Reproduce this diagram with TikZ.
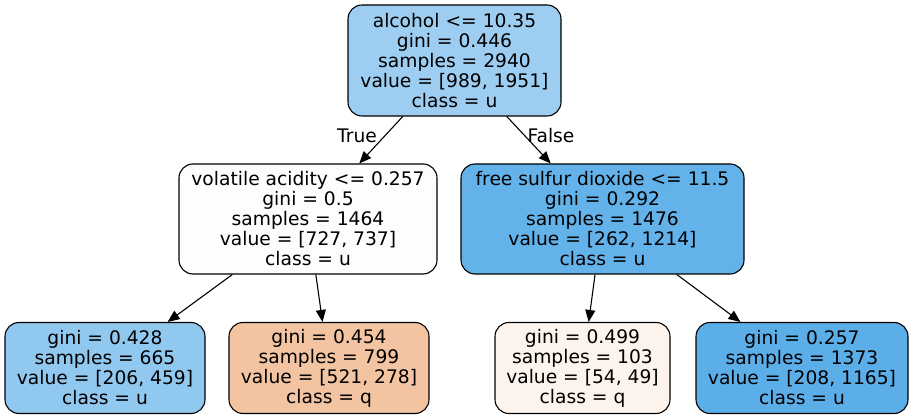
\documentclass[tikz,border=0pt]{standalone}
\usepackage{fontspec}
\setmainfont{DejaVu Sans}
\usetikzlibrary{arrows.meta}
\definecolor{cRoot}{RGB}{157,206,242}
\definecolor{cL}{RGB}{252,253,254}
\definecolor{cR}{RGB}{99,178,234}
\definecolor{cLL}{RGB}{145,200,240}
\definecolor{cLR}{RGB}{242,196,162}
\definecolor{cRL}{RGB}{252,243,236}
\definecolor{cRR}{RGB}{92,174,233}
\begin{document}
\begin{tikzpicture}[x=1pt,y=1pt,
  treenode/.style={draw=black,line width=1.1pt,rounded corners=14pt,inner sep=0pt,
    align=center,font=\fontsize{18.67}{20}\selectfont},
  edge/.style={line width=1.1pt,-{Triangle[length=12pt,width=10pt]}},
  elabel/.style={font=\fontsize{18.67}{20}\selectfont,inner sep=0pt}]
\useasboundingbox (0,0) rectangle (913,-419);
\node[treenode,fill=cRoot,minimum width=213pt,minimum height=111pt] (root) at (454.5,-60.5)
  {alcohol <= 10.35\\gini = 0.446\\samples = 2940\\value = [989, 1951]\\class = u};
\node[treenode,fill=cL,minimum width=258pt,minimum height=110pt] (l) at (308,-219)
  {volatile acidity <= 0.257\\gini = 0.5\\samples = 1464\\value = [727, 737]\\class = u};
\node[treenode,fill=cR,minimum width=283pt,minimum height=110pt] (r) at (602.5,-219)
  {free sulfur dioxide <= 11.5\\gini = 0.292\\samples = 1476\\value = [262, 1214]\\class = u};
\node[treenode,fill=cLL,minimum width=200pt,minimum height=91pt] (ll) at (105,-368)
  {gini = 0.428\\samples = 665\\value = [206, 459]\\class = u};
\node[treenode,fill=cLR,minimum width=200pt,minimum height=91pt] (lr) at (329,-368)
  {gini = 0.454\\samples = 799\\value = [521, 278]\\class = q};
\node[treenode,fill=cRL,minimum width=175pt,minimum height=91pt] (rl) at (582.5,-368)
  {gini = 0.499\\samples = 103\\value = [54, 49]\\class = q};
\node[treenode,fill=cRR,minimum width=212pt,minimum height=91pt] (rr) at (802,-368)
  {gini = 0.257\\samples = 1373\\value = [208, 1165]\\class = u};
\draw[edge] (root) -- (l);
\draw[edge] (root) -- (r);
\draw[edge] (l) -- (ll);
\draw[edge] (l) -- (lr);
\draw[edge] (r) -- (rl);
\draw[edge] (r) -- (rr);
\node[elabel] (t) at (357,-136) {True};
\node[elabel] (f) at (551,-136) {False};
\end{tikzpicture}
\end{document}
